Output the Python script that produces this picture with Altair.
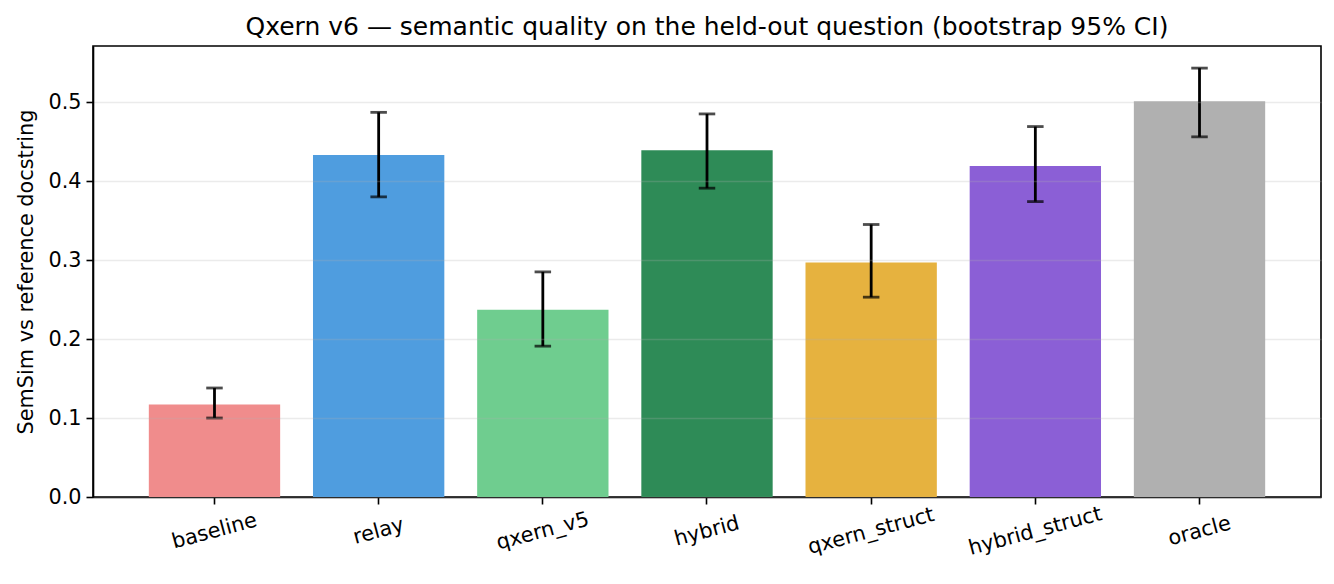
import altair as alt
import pandas as pd

methods = ["baseline", "relay", "qxern_v5", "hybrid", "qxern_struct", "hybrid_struct", "oracle"]
means = [0.117, 0.433, 0.237, 0.439, 0.297, 0.419, 0.501]
ci_lo = [0.100, 0.380, 0.191, 0.391, 0.253, 0.374, 0.456]
ci_hi = [0.138, 0.487, 0.285, 0.485, 0.345, 0.469, 0.543]
colors = ["#f08c8c", "#4f9ddf", "#6fcd8f", "#2e8b57", "#e6b23f", "#8b5fd6", "#b0b0b0"]

df = pd.DataFrame({"method": methods, "mean": means, "lo": ci_lo, "hi": ci_hi})

FONT = "DejaVu Sans"
FS = 20.8

x = alt.X(
    "method:N",
    sort=methods,
    title=None,
    scale=alt.Scale(paddingInner=0.2, paddingOuter=0.34),
    axis=alt.Axis(
        labelAngle=-15, labelAlign="center", labelBaseline="middle",
        labelPadding=27, labelFontSize=FS, labelFont=FONT, labelColor="black",
        tickSize=7, tickWidth=1.6, tickColor="black",
        domainColor="black", domainWidth=1.6, grid=False,
    ),
)

bars = alt.Chart(df).mark_bar().encode(
    x=x,
    y=alt.Y(
        "mean:Q",
        title="SemSim vs reference docstring",
        scale=alt.Scale(domain=[0, 0.571], nice=False, zero=True),
        axis=alt.Axis(
            values=[0, 0.1, 0.2, 0.3, 0.4, 0.5], format=".1f",
            labelFontSize=FS, labelFont=FONT, labelColor="black", labelPadding=5,
            tickSize=7, tickWidth=1.6, tickColor="black",
            domainColor="black", domainWidth=1.6,
            grid=True, gridColor="#b0b0b0", gridOpacity=0.25, gridWidth=1.5,
            titleFontSize=FS, titleFont=FONT, titleFontWeight="normal",
            titleColor="black", titlePadding=11, zindex=1,
        ),
    ),
    color=alt.Color("method:N", scale=alt.Scale(domain=methods, range=colors), legend=None),
)

err = alt.Chart(df).mark_rule(color="black", strokeWidth=2.8).encode(
    x=alt.X("method:N", sort=methods),
    y="lo:Q",
    y2="hi:Q",
)

cap_lo = alt.Chart(df).mark_tick(color="black", size=16.5, thickness=2.8, orient="horizontal").encode(
    x=alt.X("method:N", sort=methods),
    y="lo:Q",
)
cap_hi = alt.Chart(df).mark_tick(color="black", size=16.5, thickness=2.8, orient="horizontal").encode(
    x=alt.X("method:N", sort=methods),
    y="hi:Q",
)

chart = (bars + err + cap_lo + cap_hi).properties(
    width=1228,
    height=451,
    padding={"left": 7, "top": 7, "right": 5, "bottom": 5},
    title=alt.Title(
        "Qxern v6 — semantic quality on the held-out question (bootstrap 95% CI)",
        fontSize=25, font=FONT, fontWeight="normal", color="black", offset=6,
    ),
).configure_view(stroke="black", strokeWidth=1.6)

chart.save("out.html", embed_options={"renderer": "svg", "actions": False})
